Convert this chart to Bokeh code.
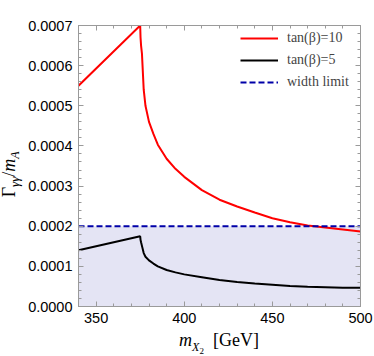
from bokeh.plotting import figure
from bokeh.models import (Range1d, LinearAxis, Legend, LegendItem, Div,
                          FixedTicker, PrintfTickFormatter)
from bokeh.layouts import row, column
from bokeh.embed import file_html
from bokeh.resources import INLINE

# ---- data ----
red_x = [340, 375, 375.2, 375.5, 376, 377, 378, 380, 382.5, 385, 390, 395, 400,
         410, 420, 430, 440, 450, 460, 470, 480, 490, 500]
red_y = [0.00055, 0.0007, 0.00067, 0.00065, 0.00063, 0.00054, 0.0005, 0.00046,
         0.00043, 0.000403, 0.000368, 0.000343, 0.000323, 0.00029, 0.000266,
         0.000249, 0.000234, 0.00022, 0.00021, 0.000202, 0.000197, 0.000192,
         0.000187]
black_x = [340, 375, 375.2, 375.5, 376, 377, 378, 380, 382.5, 385, 390, 395, 400,
           410, 420, 430, 440, 450, 460, 470, 480, 490, 500]
black_y = [0.00014, 0.000175, 0.000166, 0.00016, 0.000151, 0.000133, 0.000124,
           0.000115, 0.000107, 0.0001, 0.000091, 0.000085, 0.00008, 0.000073,
           0.000066, 0.000061, 0.000057, 0.000054, 0.000051, 0.000049, 0.000048,
           0.000047, 0.0000466]
limit_x = [340, 500]
limit_y = [0.0002, 0.0002]
x_ticks = [350, 400, 450, 500]
y_ticks = [0.0, 0.0001, 0.0002, 0.0003, 0.0004, 0.0005, 0.0006, 0.0007]
labels = ["tan(β)=10", "tan(β)=5", "width limit"]

GRAY = "#9a9a9a"
SERIF = "Liberation Serif"
SANS = "Liberation Sans"

YL_W = 24          # width of the y-label strip
FIG_W, FIG_H = 350, 330
XL_H = 26

p = figure(frame_width=282, frame_height=281, min_border_left=54,
           min_border_right=14, min_border_top=25, min_border_bottom=24,
           x_range=Range1d(340, 500), y_range=Range1d(0, 0.0007),
           output_backend="svg", toolbar_location=None, margin=0)
p.xgrid.visible = False
p.ygrid.visible = False
p.outline_line_color = GRAY

x_minor = [x for x in range(340, 501, 10)]
y_minor = [i * 0.00002 for i in range(0, 36)]

def style(ax, ticks, minor, show_labels):
    ax.ticker = FixedTicker(ticks=ticks, minor_ticks=minor)
    ax.axis_line_color = GRAY
    ax.major_tick_line_color = GRAY
    ax.minor_tick_line_color = GRAY
    ax.major_tick_in = 5
    ax.major_tick_out = 0
    ax.minor_tick_in = 3
    ax.minor_tick_out = 0
    if show_labels:
        ax.major_label_text_font = SANS
        ax.major_label_text_font_size = "14.5px"
        ax.major_label_text_color = "black"
        ax.major_label_standoff = 6
    else:
        ax.major_label_text_font_size = "1px"
        ax.major_label_text_color = None
        ax.major_label_standoff = 0

style(p.xaxis[0], x_ticks, x_minor, True)
style(p.yaxis[0], y_ticks, y_minor, True)
p.yaxis[0].formatter = PrintfTickFormatter(format="%.4f")

top = LinearAxis()
style(top, x_ticks, x_minor, False)
p.add_layout(top, "above")
right = LinearAxis()
style(right, y_ticks, y_minor, False)
p.add_layout(right, "right")

# shaded region below the width limit
p.varea(x=limit_x, y1=[0, 0], y2=limit_y, fill_color="#e4e4f4")

r_red = p.line(red_x, red_y, line_color="#ff0000", line_width=2)
r_black = p.line(black_x, black_y, line_color="black", line_width=2)
r_lim = p.line(limit_x, limit_y, line_color="#0000a8", line_width=2,
               line_dash="6 3")

legend = Legend(items=[LegendItem(label=labels[0], renderers=[r_red]),
                       LegendItem(label=labels[1], renderers=[r_black]),
                       LegendItem(label=labels[2], renderers=[r_lim])],
                location=(162, 214), border_line_color=None,
                background_fill_alpha=0, padding=0, margin=0, spacing=2,
                glyph_width=38, glyph_height=20, label_height=20,
                label_standoff=9, label_text_font=SERIF,
                label_text_font_size="14px")
p.add_layout(legend)

# axis titles as real HTML text (with sub-/subsubscripts)
ylabel_html = (
    f'<div style="width:{YL_W}px;height:{FIG_H}px;display:flex;'
    'align-items:center;justify-content:center;overflow:visible;">'
    '<span style="flex:none;white-space:nowrap;display:inline-block;'
    "font-family:'Liberation Serif';font-size:18px;line-height:20px;"
    'color:black;transform:translate(0px,9px) rotate(-90deg);">'
    'Γ<sub style="font-size:13px;font-style:italic;">γγ</sub>/<i>m</i>'
    '<sub style="font-size:12px;font-style:italic;">A</sub></span></div>')
xlabel_html = (
    f'<div style="width:{FIG_W}px;height:{XL_H}px;display:flex;'
    'justify-content:center;align-items:flex-start;padding-left:40px;'
    'box-sizing:border-box;overflow:visible;">'
    '<span style="flex:none;white-space:nowrap;'
    "font-family:'Liberation Serif';font-size:18px;line-height:18px;"
    'color:black;padding-top:1px;">'
    '<i>m</i><sub style="font-size:12px;font-style:italic;">X'
    '<sub style="font-size:9px;font-style:normal;">2</sub></sub>'
    '&nbsp;&nbsp;[GeV]</span></div>')

ydiv = Div(text=ylabel_html, width=YL_W, height=FIG_H, margin=0)
xdiv = Div(text=xlabel_html, width=FIG_W, height=XL_H, margin=0)

layout = row(ydiv, column(p, xdiv, spacing=0, margin=0), spacing=0, margin=0)

open("out.html", "w").write(file_html(layout, INLINE))
